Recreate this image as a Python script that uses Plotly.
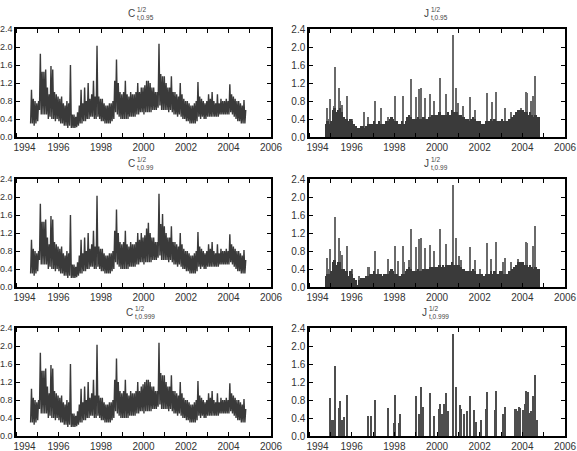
import plotly.graph_objects as go
from plotly.subplots import make_subplots

W, H = 577, 451

# ---------------- data ----------------
# monthly values, Sep 1994 .. Oct 2004 (122 months)
first_year, first_month = 1994, 9

# C^{1/2}: monthly low / high envelope of the daily series
c_low = [
    0.30, 0.30, 0.25, 0.30,                                              # 1994 Sep-Dec
    0.35, 0.60, 0.50, 0.50, 0.50, 0.50, 0.40, 0.45, 0.40, 0.40, 0.35, 0.40,  # 1995
    0.35, 0.30, 0.30, 0.25, 0.25, 0.20, 0.25, 0.20, 0.20, 0.20, 0.22, 0.25,  # 1996
    0.30, 0.30, 0.35, 0.35, 0.40, 0.40, 0.45, 0.45, 0.40, 0.40, 0.45, 0.40,  # 1997
    0.35, 0.35, 0.30, 0.30, 0.30, 0.30, 0.35, 0.40, 0.55, 0.50, 0.45, 0.40,  # 1998
    0.40, 0.40, 0.40, 0.40, 0.45, 0.45, 0.45, 0.45, 0.50, 0.50, 0.55, 0.55,  # 1999
    0.50, 0.55, 0.55, 0.55, 0.55, 0.60, 0.60, 0.60, 0.65, 0.70, 0.60, 0.60,  # 2000
    0.60, 0.60, 0.55, 0.60, 0.55, 0.50, 0.50, 0.45, 0.50, 0.45, 0.40, 0.40,  # 2001
    0.35, 0.35, 0.30, 0.30, 0.30, 0.30, 0.35, 0.45, 0.40, 0.45, 0.40, 0.40,  # 2002
    0.45, 0.45, 0.45, 0.45, 0.45, 0.45, 0.45, 0.50, 0.50, 0.50, 0.50, 0.50,  # 2003
    0.50, 0.55, 0.50, 0.45, 0.40, 0.35, 0.35, 0.30, 0.30, 0.30,              # 2004 Jan-Oct
]
c095_high = [
    1.05, 0.85, 0.80, 0.75,
    0.80, 1.85, 1.45, 1.45, 1.50, 1.10, 0.95, 1.58, 1.50, 1.00, 0.95, 0.90,
    0.85, 0.90, 0.75, 0.70, 0.80, 0.75, 1.60, 0.50, 0.50, 0.45, 0.55, 0.70,
    1.05, 0.75, 1.10, 0.80, 1.20, 0.85, 0.95, 1.25, 0.90, 2.03, 0.90, 0.85,
    0.85, 0.75, 0.70, 0.70, 0.75, 0.75, 0.80, 1.25, 1.72, 1.20, 1.00, 0.95,
    1.00, 1.25, 0.95, 0.90, 1.00, 0.95, 0.95, 1.00, 1.20, 1.00, 1.10, 1.10,
    1.15, 1.25, 1.25, 1.20, 1.10, 1.10, 1.00, 1.00, 2.07, 1.40, 1.35, 1.35,
    1.20, 1.10, 1.10, 1.35, 1.00, 1.00, 0.95, 0.90, 1.20, 0.95, 0.85, 0.80,
    0.80, 0.75, 0.70, 0.70, 0.75, 0.80, 1.22, 0.90, 0.85, 0.80, 0.75, 0.80,
    0.95, 0.85, 1.00, 0.80, 0.75, 0.95, 0.75, 0.85, 0.80, 0.80, 0.85, 0.80,
    1.17, 0.95, 0.90, 0.85, 0.80, 0.80, 0.75, 0.70, 0.82, 0.60,
]
c099_high = [
    1.05, 0.85, 0.80, 0.75,
    0.80, 1.85, 1.45, 1.45, 1.50, 1.10, 0.95, 1.58, 1.50, 1.00, 0.95, 0.90,
    0.85, 0.90, 0.75, 0.70, 0.80, 0.75, 1.60, 0.50, 0.50, 0.45, 0.55, 0.70,
    1.05, 0.75, 1.10, 0.80, 1.20, 0.85, 0.95, 1.25, 0.90, 2.03, 0.90, 0.85,
    0.85, 0.75, 0.70, 0.70, 0.75, 0.75, 0.80, 1.25, 1.72, 1.20, 1.00, 0.95,
    1.00, 1.25, 0.95, 0.90, 1.00, 0.95, 0.95, 1.00, 1.20, 1.05, 1.20, 1.10,
    1.15, 1.30, 1.43, 1.20, 1.10, 1.10, 1.00, 1.00, 2.07, 1.40, 1.62, 1.35,
    1.20, 1.10, 1.10, 1.35, 1.00, 1.00, 0.95, 0.90, 1.20, 0.95, 0.85, 0.80,
    0.80, 0.75, 0.70, 0.70, 0.75, 0.80, 1.22, 0.90, 0.85, 0.80, 0.75, 0.80,
    0.95, 0.85, 1.00, 0.80, 0.75, 0.95, 0.75, 0.85, 0.80, 0.80, 0.85, 0.80,
    1.17, 0.95, 0.90, 0.85, 0.80, 0.80, 0.75, 0.70, 0.82, 0.60,
]
c0999_high = [
    1.05, 0.85, 0.80, 0.75,
    0.80, 1.85, 1.45, 1.45, 1.50, 1.10, 0.95, 1.58, 1.50, 1.00, 0.95, 0.90,
    0.85, 0.90, 0.75, 0.70, 0.80, 0.75, 1.60, 0.50, 0.50, 0.45, 0.55, 0.70,
    1.05, 0.75, 1.10, 0.80, 1.20, 0.85, 0.95, 1.25, 0.90, 2.03, 0.90, 0.85,
    0.85, 0.75, 0.70, 0.70, 0.75, 0.75, 0.80, 1.25, 1.72, 1.20, 1.00, 0.95,
    1.00, 1.25, 0.95, 0.90, 1.00, 0.95, 0.95, 1.00, 1.20, 1.00, 1.10, 1.15,
    1.20, 1.25, 1.25, 1.20, 1.10, 1.10, 1.00, 1.00, 2.07, 1.40, 1.35, 1.35,
    1.20, 1.10, 1.10, 1.35, 1.00, 1.00, 0.95, 0.90, 1.20, 0.95, 0.85, 0.80,
    0.80, 0.75, 0.70, 0.70, 0.75, 0.80, 1.22, 0.90, 0.85, 0.80, 0.75, 0.80,
    0.95, 0.85, 1.00, 0.80, 0.75, 0.95, 0.75, 0.85, 0.80, 0.80, 0.85, 0.80,
    1.17, 0.95, 0.90, 0.85, 0.80, 0.80, 0.75, 0.70, 0.82, 0.60,
]

# J^{1/2}: typical monthly level of the dense jump bars
j095_level = [
    0.00, 0.30, 0.35, 0.30,
    0.35, 0.60, 0.65, 0.55, 0.60, 0.65, 0.55, 0.45, 0.40, 0.40, 0.35, 0.40,
    0.35, 0.30, 0.25, 0.20, 0.20, 0.25, 0.25, 0.20, 0.25, 0.30, 0.30, 0.30,
    0.35, 0.30, 0.30, 0.35, 0.30, 0.30, 0.30, 0.35, 0.35, 0.40, 0.45, 0.40,
    0.35, 0.35, 0.30, 0.30, 0.35, 0.30, 0.35, 0.45, 0.50, 0.45, 0.40, 0.40,
    0.40, 0.45, 0.40, 0.40, 0.45, 0.40, 0.40, 0.45, 0.45, 0.50, 0.50, 0.50,
    0.50, 0.55, 0.50, 0.50, 0.50, 0.50, 0.55, 0.50, 0.60, 0.55, 0.55, 0.55,
    0.50, 0.50, 0.45, 0.45, 0.40, 0.40, 0.35, 0.40, 0.45, 0.40, 0.35, 0.35,
    0.35, 0.30, 0.30, 0.35, 0.35, 0.35, 0.40, 0.35, 0.40, 0.35, 0.35, 0.35,
    0.40, 0.35, 0.35, 0.35, 0.40, 0.40, 0.45, 0.50, 0.55, 0.60, 0.60, 0.60,
    0.60, 0.55, 0.55, 0.50, 0.55, 0.50, 0.45, 0.50, 0.45, 0.45,
]
j099_level = [
    0.00, 0.25, 0.30, 0.30,
    0.35, 0.55, 0.60, 0.50, 0.55, 0.55, 0.40, 0.40, 0.35, 0.35, 0.25, 0.35,
    0.30, 0.20, 0.15, 0.05, 0.15, 0.20, 0.20, 0.20, 0.25, 0.25, 0.30, 0.30,
    0.35, 0.30, 0.30, 0.30, 0.30, 0.25, 0.30, 0.30, 0.30, 0.35, 0.40, 0.35,
    0.30, 0.30, 0.25, 0.25, 0.30, 0.30, 0.35, 0.40, 0.45, 0.40, 0.35, 0.35,
    0.35, 0.40, 0.35, 0.35, 0.40, 0.40, 0.40, 0.40, 0.45, 0.45, 0.45, 0.45,
    0.45, 0.50, 0.45, 0.50, 0.45, 0.50, 0.50, 0.50, 0.55, 0.50, 0.50, 0.50,
    0.50, 0.45, 0.40, 0.40, 0.35, 0.35, 0.35, 0.35, 0.40, 0.35, 0.30, 0.30,
    0.30, 0.30, 0.25, 0.30, 0.30, 0.30, 0.35, 0.30, 0.35, 0.30, 0.30, 0.35,
    0.35, 0.30, 0.30, 0.30, 0.35, 0.35, 0.40, 0.45, 0.50, 0.55, 0.55, 0.55,
    0.55, 0.50, 0.50, 0.45, 0.50, 0.45, 0.40, 0.45, 0.40, 0.40,
]

# individual large jumps (decimal year, value)
j095_spike_t = [1994.83, 1994.90, 1994.99, 1995.15, 1995.22, 1995.41, 1995.47, 1995.55,
                1995.80, 1996.03, 1996.59, 1996.75, 1997.09, 1997.37, 1997.69, 1998.03,
                1998.39, 1998.78, 1999.02, 1999.18, 1999.25, 1999.44, 1999.69, 1999.88,
                2000.16, 2000.43, 2000.73, 2000.87, 2000.98, 2001.22, 2001.53, 2001.76,
                2002.35, 2002.58, 2002.75, 2003.18, 2003.49, 2003.96, 2004.15, 2004.24,
                2004.43, 2004.51, 2004.60]
j095_spike_v = [0.65, 0.40, 0.85, 0.70, 1.55, 1.10, 0.80, 0.72,
                0.92, 0.40, 0.55, 0.45, 0.80, 0.65, 0.45, 0.92,
                0.92, 1.28, 0.90, 1.07, 1.10, 0.87, 0.95, 0.80,
                1.32, 0.95, 2.27, 1.08, 0.75, 0.70, 0.90, 0.60,
                0.98, 0.78, 1.00, 0.65, 0.55, 0.65, 1.00, 0.98,
                0.80, 0.92, 1.35]
j099_spike_t = [1994.83, 1994.90, 1994.99, 1995.22, 1995.41, 1995.46, 1995.55, 1995.80,
                1996.03, 1996.34, 1996.75, 1996.83, 1997.09, 1997.22, 1997.72, 1997.84,
                1998.03, 1998.16, 1998.39, 1998.47, 1998.71, 1998.78, 1999.02, 1999.18,
                1999.25, 1999.44, 1999.65, 1999.88, 2000.16, 2000.43, 2000.73, 2000.87,
                2001.01, 2001.14, 2001.53, 2001.76, 2002.00, 2002.35, 2002.51, 2002.75,
                2003.10, 2003.21, 2003.49, 2003.80, 2004.15, 2004.24, 2004.51, 2004.59]
j099_spike_v = [0.65, 0.40, 0.85, 1.55, 1.10, 0.80, 0.72, 0.92,
                0.40, 0.25, 0.45, 0.45, 0.80, 0.40, 0.62, 0.40,
                0.92, 0.58, 0.92, 0.55, 0.60, 1.28, 0.90, 1.07,
                1.10, 0.87, 0.93, 0.80, 1.30, 0.95, 2.27, 1.08,
                0.70, 0.60, 0.90, 0.60, 0.40, 0.98, 0.62, 1.00,
                0.55, 0.65, 0.55, 0.62, 1.00, 0.98, 0.92, 1.35]
j0999_t = [1994.99, 1995.07, 1995.13, 1995.22, 1995.41, 1995.46, 1995.52, 1995.58,
           1995.65, 1995.76, 1995.80, 1996.75, 1996.78, 1996.90, 1996.93, 1997.11,
           1997.69, 1998.00, 1998.05, 1998.24, 1998.28, 1999.00, 1999.18, 1999.25,
           1999.33, 1999.36, 1999.65, 1999.88, 2000.09, 2000.16, 2000.23, 2000.32,
           2000.38, 2000.43, 2000.54, 2000.73, 2000.87, 2001.06, 2001.14, 2001.29,
           2001.42, 2001.53, 2001.73, 2001.81, 2002.05, 2002.31, 2002.36, 2002.71,
           2002.74, 2002.77, 2003.10, 2003.21, 2003.65, 2003.70, 2003.73, 2003.84,
           2003.91, 2004.04, 2004.12, 2004.18, 2004.27, 2004.35, 2004.43, 2004.51,
           2004.59, 2004.67, 2004.71]
j0999_v = [0.85, 0.35, 0.35, 1.55, 0.62, 0.78, 0.35, 0.35,
           0.42, 0.45, 0.92, 0.45, 0.28, 0.20, 0.45, 0.80,
           0.62, 0.30, 0.92, 0.30, 0.50, 0.90, 0.50, 1.10,
           0.50, 0.65, 0.95, 0.45, 0.60, 0.72, 0.50, 0.72,
           0.72, 0.95, 0.55, 2.27, 1.08, 0.70, 0.60, 0.50,
           0.55, 0.90, 0.58, 0.32, 0.35, 0.60, 0.98, 0.58,
           0.40, 1.00, 0.48, 0.65, 0.60, 0.60, 0.55, 0.65,
           0.62, 0.58, 0.72, 1.00, 0.98, 0.52, 0.55, 0.90,
           1.35, 0.35, 0.30]

# axes: year tick marks, labels every two years (first label drawn a little inside the frame)
x_minor_years = list(range(1994, 2007))
x_label_pos = [1994.4, 1996, 1998, 2000, 2002, 2004, 2006]
x_label_text = ["1994", "1996", "1998", "2000", "2002", "2004", "2006"]
y_tick_vals = [0.0, 0.4, 0.8, 1.2, 1.6, 2.0, 2.4]
y_tick_text = ["0.0", "0.4", "0.8", "1.2", "1.6", "2.0", "2.4"]

# ---------------- figure ----------------
DARK = "#3a3a3a"
SPIKE = "#6a6a6a"
month_t = [first_year + (first_month - 1 + i) / 12 for i in range(len(c_low))]

fig = make_subplots(rows=3, cols=2)

def c_trace(high):
    xs, ys = [], []
    for t, lo, hi in zip(month_t, c_low, high):
        xs += [t + 0.25 / 12, t + 0.75 / 12]
        ys += [lo, hi]
    return go.Scatter(x=xs, y=ys, mode="lines", line=dict(color=DARK, width=1.4),
                      showlegend=False, hoverinfo="skip")

for r, hi in enumerate([c095_high, c099_high, c0999_high], start=1):
    fig.add_trace(c_trace(hi), row=r, col=1)

for r, (lev, st, sv) in enumerate([(j095_level, j095_spike_t, j095_spike_v),
                                    (j099_level, j099_spike_t, j099_spike_v)], start=1):
    fig.add_trace(go.Bar(x=st, y=sv, width=0.05, marker=dict(color=SPIKE, line_width=0),
                         showlegend=False, hoverinfo="skip"), row=r, col=2)
    fig.add_trace(go.Bar(x=[t + 0.5 / 12 for t in month_t], y=lev, width=1 / 12,
                         marker=dict(color=DARK, line_width=0),
                         showlegend=False, hoverinfo="skip"), row=r, col=2)
fig.add_trace(go.Bar(x=j0999_t, y=j0999_v, width=0.05, marker=dict(color="#4e4e4e", line_width=0),
                     showlegend=False, hoverinfo="skip"), row=3, col=2)

# panel geometry (pixels)
cols_px = [(16, 271), (309, 565)]
rows_px = [(29, 137), (179, 287), (328, 436)]

FONT = "Liberation Sans, Arial, sans-serif"
for r in range(3):
    for c in range(2):
        idx = r * 2 + c + 1
        sx = "" if idx == 1 else str(idx)
        x0, x1 = cols_px[c]
        y0, y1 = rows_px[r]
        fig.layout["xaxis" + sx].update(
            domain=[x0 / W, x1 / W], range=[1994, 2006], tickvals=x_label_pos,
            ticktext=x_label_text, ticks="", showline=True, linecolor="black",
            linewidth=1.5, mirror="allticks", showgrid=False, zeroline=False,
            automargin=False, ticklabeloverflow="allow",
            minor=dict(tickvals=x_minor_years, ticks="inside", ticklen=4, tickwidth=1,
                       tickcolor="black", showgrid=False),
            tickfont=dict(family=FONT, size=10, color="#333"))
        fig.layout["yaxis" + sx].update(
            domain=[1 - y1 / H, 1 - y0 / H], range=[0, 2.4], tickvals=y_tick_vals,
            ticktext=y_tick_text, ticks="inside", ticklen=4, tickwidth=1, tickcolor="black",
            showline=True, linecolor="black", linewidth=1.5, mirror="ticks",
            showgrid=False, zeroline=False, automargin=False,
            tickfont=dict(family=FONT, size=9 if c == 0 else 10, color="#333"))

# titles: letter followed by stacked superscript 1/2 and subscript t,q
titles = [("C", "0.95"), ("J", "0.95"), ("C", "0.99"), ("J", "0.99"), ("C", "0.999"), ("J", "0.999")]
title_y = [13.5, 163.5, 312]
for k, (letter, q) in enumerate(titles):
    r, c = divmod(k, 2)
    cx = (cols_px[c][0] + cols_px[c][1]) / 2
    xl = cx - 9 - (2 if len(q) > 4 else 0)
    ty = title_y[r]
    fig.add_annotation(x=(xl + 1.5) / W, y=1 - ty / H, xref="paper", yref="paper", text=letter,
                       showarrow=False, xanchor="right", yanchor="middle", borderpad=0,
                       font=dict(family=FONT, size=10, color="#444"))
    fig.add_annotation(x=(xl + 1.5) / W, y=1 - ty / H, xref="paper", yref="paper",
                       text="1/2<br>t,%s" % q, showarrow=False, xanchor="left",
                       yanchor="middle", align="left", borderpad=0,
                       font=dict(family=FONT, size=6.5, color="#444"))

fig.update_layout(width=W, height=H, margin=dict(l=0, r=0, t=0, b=0),
                  paper_bgcolor="white", plot_bgcolor="white", barmode="overlay",
                  bargap=0, showlegend=False)
fig.write_html("out.html")
